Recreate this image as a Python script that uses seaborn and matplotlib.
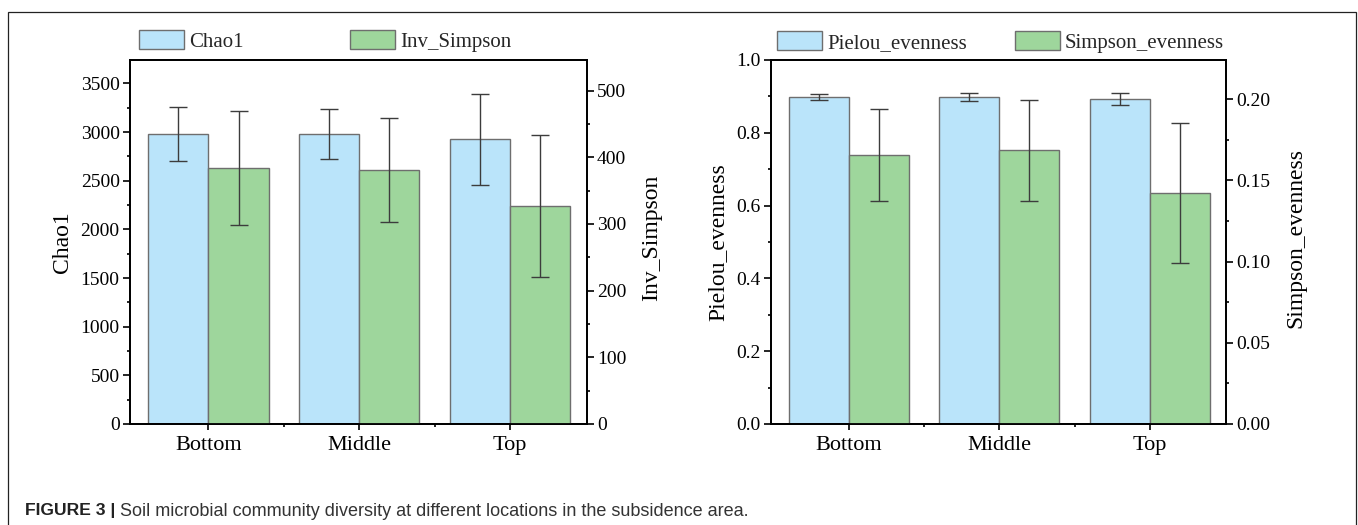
import matplotlib
matplotlib.use("Agg")
import matplotlib.pyplot as plt
import seaborn as sns
import pandas as pd
from matplotlib.patches import Patch, Rectangle
from matplotlib.ticker import MultipleLocator, FixedLocator, FormatStrFormatter

# ---------------- data ----------------
locations = ["Bottom", "Middle", "Top"]
chao1 = [2980, 2980, 2925]
chao1_err = [280, 260, 470]
inv_simpson = [384, 381, 327]
inv_simpson_err = [86, 78, 106]
pielou = [0.898, 0.898, 0.893]
pielou_err = [0.009, 0.011, 0.016]
simpson_even = [0.1655, 0.1684, 0.142]
simpson_even_err = [0.0285, 0.031, 0.043]

sns.set_theme(style="ticks")
plt.rcParams['font.family'] = ['Liberation Serif', 'DejaVu Serif']

BLUE = "#BAE4FA"
GREEN = "#9ED69C"
EDGE = "#6E6E6E"
ERR = "#3C3C3C"

W, H = 1358, 525
fig = plt.figure(figsize=(W / 100, H / 100), dpi=100)


def fx(px):
    return px / W


def fy(py):
    return 1 - py / H


def style_axis(ax):
    for s in ax.spines.values():
        s.set_visible(True)
        s.set_color("black")
        s.set_linewidth(1.3)


def add_errors(ax, errs):
    bars = [p for p in ax.patches if p.get_width() > 0]
    bars = sorted(bars, key=lambda p: p.get_x())
    xs = [p.get_x() + p.get_width() / 2 for p in bars]
    hs = [p.get_height() for p in bars]
    ax.errorbar(xs, hs, yerr=errs, fmt="none", ecolor=ERR, elinewidth=1,
                capsize=6.5, capthick=1, zorder=5)


def panel(rect, names, v1, e1, v2, e2, ylim1, ylim2, maj1, min1, maj2, min2,
          fmt1, fmt2, lab_x1, lab_x2):
    ax = fig.add_axes(rect)
    ax2 = ax.twinx()
    df = pd.DataFrame({
        "loc": locations * 2,
        "series": [names[0]] * 3 + [names[1]] * 3,
        "value": list(v1) + list(v2),
    })
    pal = {names[0]: BLUE, names[1]: GREEN}
    sns.barplot(data=df[df.series == names[0]], x="loc", y="value", hue="series",
                hue_order=names, order=locations, palette=pal, ax=ax,
                errorbar=None, width=0.8, dodge=True, edgecolor=EDGE, linewidth=1,
                legend=False, saturation=1)
    sns.barplot(data=df[df.series == names[1]], x="loc", y="value", hue="series",
                hue_order=names, order=locations, palette=pal, ax=ax2,
                errorbar=None, width=0.8, dodge=True, edgecolor=EDGE, linewidth=1,
                legend=False, saturation=1)
    add_errors(ax, e1)
    add_errors(ax2, e2)

    ax.set_xlim(-0.52, 2.51)
    ax.set_ylim(*ylim1)
    ax2.set_ylim(*ylim2)

    ax.yaxis.set_major_locator(MultipleLocator(maj1))
    ax.yaxis.set_minor_locator(MultipleLocator(min1))
    ax.yaxis.set_major_formatter(FormatStrFormatter(fmt1))
    ax2.yaxis.set_major_locator(MultipleLocator(maj2))
    ax2.yaxis.set_minor_locator(MultipleLocator(min2))
    ax2.yaxis.set_major_formatter(FormatStrFormatter(fmt2))
    ax.xaxis.set_minor_locator(FixedLocator([0.5, 1.5]))

    ax.tick_params(axis="y", which="both", direction="out", left=True, right=False,
                   labelsize=14, pad=2.5, width=1.2, color="black", labelcolor="black")
    ax.tick_params(axis="y", which="major", length=5)
    ax.tick_params(axis="y", which="minor", length=2.5)
    ax.tick_params(axis="x", which="both", direction="out", bottom=True, top=False,
                   labelsize=16, pad=4, width=1.2, color="black", labelcolor="black")
    ax.tick_params(axis="x", which="major", length=4.5)
    ax.tick_params(axis="x", which="minor", length=2.5)
    ax2.tick_params(axis="y", which="both", direction="out", right=True, left=False,
                    labelsize=14, pad=2.5, width=1.2, color="black", labelcolor="black")
    ax2.tick_params(axis="y", which="major", length=5)
    ax2.tick_params(axis="y", which="minor", length=2.5)
    ax2.tick_params(axis="x", which="both", bottom=False, top=False)

    ax.set_xlabel("")
    ax.set_ylabel(names[0], fontsize=17, color="black")
    ax2.set_ylabel(names[1], fontsize=17, color="black")
    ax.yaxis.set_label_coords(lab_x1, 0.5)
    ax2.yaxis.set_label_coords(lab_x2, 0.51)
    style_axis(ax)
    style_axis(ax2)
    return ax, ax2


axL, axL2 = panel([fx(130.1), fy(424), fx(586.7) - fx(130.1), (424 - 60) / H],
                  ["Chao1", "Inv_Simpson"], chao1, chao1_err, inv_simpson, inv_simpson_err,
                  (0, 3740), (0, 546), 500, 250, 100, 50, "%d", "%d", -0.125, 1.119)
axR, axR2 = panel([fx(770.9), fy(424), fx(1226.3) - fx(770.9), (424 - 60) / H],
                  ["Pielou_evenness", "Simpson_evenness"], pielou, pielou_err,
                  simpson_even, simpson_even_err,
                  (0, 1.0), (0, 0.224), 0.2, 0.1, 0.05, 0.025, "%.1f", "%.2f", -0.094, 1.129)

# legends
def make_legend(names, x, y, colsp):
    handles = [Patch(facecolor=BLUE, edgecolor=EDGE, linewidth=1),
               Patch(facecolor=GREEN, edgecolor=EDGE, linewidth=1)]
    fig.legend(handles, names, loc="center left", bbox_to_anchor=(fx(x), fy(y)),
               ncol=2, frameon=False, fontsize=15, handlelength=2.16, handleheight=1.0,
               handletextpad=0.25, columnspacing=colsp, borderpad=0, borderaxespad=0)


make_legend(["Chao1", "Inv_Simpson"], 139, 41, 5.1)
make_legend(["Pielou_evenness", "Simpson_evenness"], 777, 42, 2.3)

# outer frame
fig.patches.append(Rectangle((fx(8), -0.1), fx(1356) - fx(8), fy(12) + 0.1,
                             transform=fig.transFigure, fill=False,
                             edgecolor="#222222", linewidth=0.9))

# caption
t1 = fig.text(fx(25), fy(511), "FIGURE 3 |", fontsize=12.6, fontweight="bold",
              family=["Liberation Sans", "DejaVu Sans"], va="center", ha="left",
              color="#222222")
fig.canvas.draw()
bb = t1.get_window_extent(renderer=fig.canvas.get_renderer())
fig.text(bb.x1 / W + fx(5), fy(511),
         "Soil microbial community diversity at different locations in the subsidence area.",
         fontsize=13.0, family=["Liberation Sans", "DejaVu Sans"], va="center", ha="left",
         color="#333333")

fig.savefig("out.png", dpi=100)
